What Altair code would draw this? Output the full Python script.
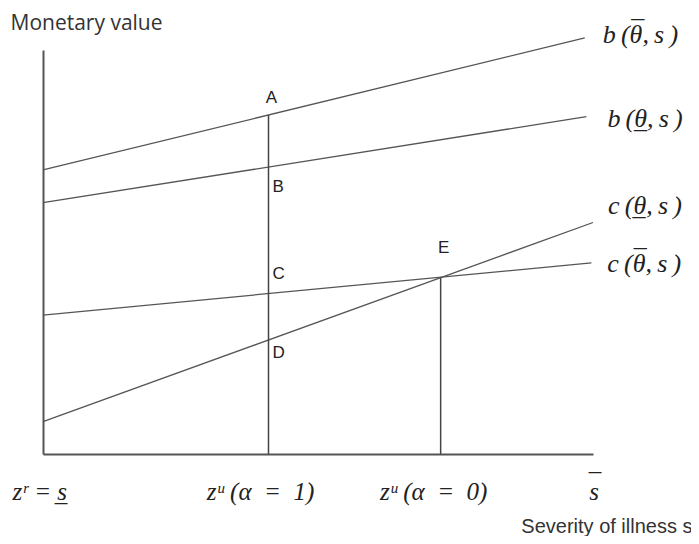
import altair as alt
import pandas as pd

# ---- data (s = severity 0..10, v = monetary value 0..10) ----
TS = "\u2009"   # thin space
ES = "\u2002"   # en space
line_ids = ["b_hi", "b_lo", "c_lo", "c_hi"]
line_labels = [f"b{TS}(θ,{TS}s{TS})", f"b{TS}(θ,{TS}s{TS})",
               f"c{TS}(θ,{TS}s{TS})", f"c{TS}(θ,{TS}s{TS})"]
line_marks = ["¯", "_", "_", "¯"]          # bar over / under theta
s_start = [0.0, 0.0, 0.0, 0.0]
s_end = [9.85, 9.88, 10.0, 9.97]
v_start = [7.03, 6.22, 0.80, 3.44]
v_end = [10.30, 8.35, 5.73, 4.73]

vert_s = [4.10, 7.23]
vert_top = [8.39, 4.37]
vert_bottom = [0.0, 0.0]

point_names = ["A", "B", "C", "D", "E"]
point_s = [4.10, 4.10, 4.10, 4.10, 7.23]
point_v = [8.39, 7.10, 3.97, 2.82, 4.37]

tick_ids = ["zr", "zu1", "zu0", "sbar"]
tick_s = [0.0, 4.10, 7.23, 10.0]
tick_text = [f"z\u02b3 = s", f"z\u1d58 (α{ES}={ES}1)", f"z\u1d58 (α{ES}={ES}0)", "s"]

# ---- tables ----
lines_df = pd.DataFrame({
    "series": line_ids + line_ids,
    "s": s_start + s_end,
    "v": v_start + v_end,
})
ends_df = pd.DataFrame({"series": line_ids, "label": line_labels,
                        "mark": line_marks, "s": s_end, "v": v_end})
vert_df = pd.DataFrame({"s": vert_s, "top": vert_top, "bottom": vert_bottom})
pts_df = pd.DataFrame({"name": point_names, "s": point_s, "v": point_v})
ticks_df = pd.DataFrame({"id": tick_ids, "s": tick_s, "label": tick_text,
                         "v": [0.0] * len(tick_s)})

X = alt.Scale(domain=[0, 10], nice=False, zero=False)
Y = alt.Scale(domain=[0, 10], nice=False, zero=False)

x_axis = alt.Axis(
    domain=True, domainColor="#555", domainWidth=2, ticks=False, labels=False,
    grid=False,
    title="Severity of illness s", titleFont="Liberation Sans", titleFontSize=20,
    titleFontWeight="normal", titleColor="#333", titleAlign="right",
    titleBaseline="middle", titleX=649, titleY=72,
)
y_axis = alt.Axis(
    domain=True, domainColor="#555", domainWidth=2, ticks=False, labels=False,
    grid=False, title="Monetary value", titleAngle=0, titleAlign="left",
    titleBaseline="middle", titleX=-33, titleY=-27, titleFont="Open Sans",
    titleFontSize=21, titleFontWeight="normal", titleColor="#333",
)


def enc(xf="s:Q", yf="v:Q"):
    return dict(x=alt.X(xf, scale=X, axis=x_axis), y=alt.Y(yf, scale=Y, axis=y_axis))


lines = alt.Chart(lines_df).mark_line(color="#555", strokeWidth=1.3).encode(
    detail="series:N", **enc()
)

verts = alt.Chart(vert_df).mark_rule(color="#444", strokeWidth=1.5).encode(
    y2="bottom:Q", **enc(yf="top:Q")
)

layers = [lines, verts]

# point letters
pt_style = {
    "A": dict(align="center", dx=3, dy=-17),
    "B": dict(align="left", dx=4, dy=20),
    "C": dict(align="left", dx=4, dy=-20),
    "D": dict(align="left", dx=4, dy=13),
    "E": dict(align="center", dx=3, dy=-29),
}
for name, st in pt_style.items():
    layers.append(
        alt.Chart(pts_df).transform_filter(alt.datum.name == name).mark_text(
            font="Liberation Sans", fontSize=17, color="#222", baseline="middle", **st
        ).encode(text="name:N", **enc())
    )

# curve labels at the right, with the bar over / under theta as an overlay
FS = 26
end_style = {
    "b_hi": dict(dx=18, dy=-3, bar_dx=18 + 35, bar_dy=-3 - 5),
    "b_lo": dict(dx=21, dy=2, bar_dx=21 + 33, bar_dy=2 + 1),
    "c_lo": dict(dx=15, dy=-17, bar_dx=15 + 31, bar_dy=-17 + 1),
    "c_hi": dict(dx=16, dy=1, bar_dx=16 + 33, bar_dy=1 - 5),
}
for sid, st in end_style.items():
    sub = alt.Chart(ends_df).transform_filter(alt.datum.series == sid)
    layers.append(
        sub.mark_text(
            font="Liberation Serif", fontStyle="italic", fontSize=FS, color="#222",
            align="left", baseline="middle", dx=st["dx"], dy=st["dy"],
        ).encode(text="label:N", **enc())
    )
    layers.append(
        sub.mark_text(
            font="Liberation Serif", fontSize=FS, color="#222",
            align="center", baseline="middle", dx=st["bar_dx"], dy=st["bar_dy"],
        ).encode(text="mark:N", **enc())
    )

# bottom (x-axis) labels
TFS = 25
tick_style = {
    "zr": dict(align="right", dx=24, dy=38),
    "zu1": dict(align="center", dx=-8, dy=38),
    "zu0": dict(align="center", dx=-7, dy=38),
    "sbar": dict(align="center", dx=1, dy=38),
}
for tid, st in tick_style.items():
    layers.append(
        alt.Chart(ticks_df).transform_filter(alt.datum.id == tid).mark_text(
            font="Liberation Serif", fontStyle="italic", fontSize=TFS, color="#222",
            baseline="middle", **st
        ).encode(text="label:N", **enc())
    )
# underline of s (z^r = s) and bar over s
layers.append(
    alt.Chart(ticks_df).transform_filter(alt.datum.id == "zr").mark_text(
        font="Liberation Serif", fontSize=TFS, color="#222", text="_",
        align="center", baseline="middle", dx=18, dy=39,
    ).encode(**enc())
)
layers.append(
    alt.Chart(ticks_df).transform_filter(alt.datum.id == "sbar").mark_text(
        font="Liberation Serif", fontSize=TFS, color="#222", text="¯",
        align="center", baseline="middle", dx=2, dy=29,
    ).encode(**enc())
)

chart = alt.layer(*layers).properties(
    width=550, height=404,
    autosize=alt.AutoSizeParams(type="none"),
    padding={"left": 35, "top": 42, "right": 98, "bottom": 82},
    background="white",
).configure_view(stroke=None)

chart.save("out.html", embed_options={"renderer": "svg", "actions": False})
